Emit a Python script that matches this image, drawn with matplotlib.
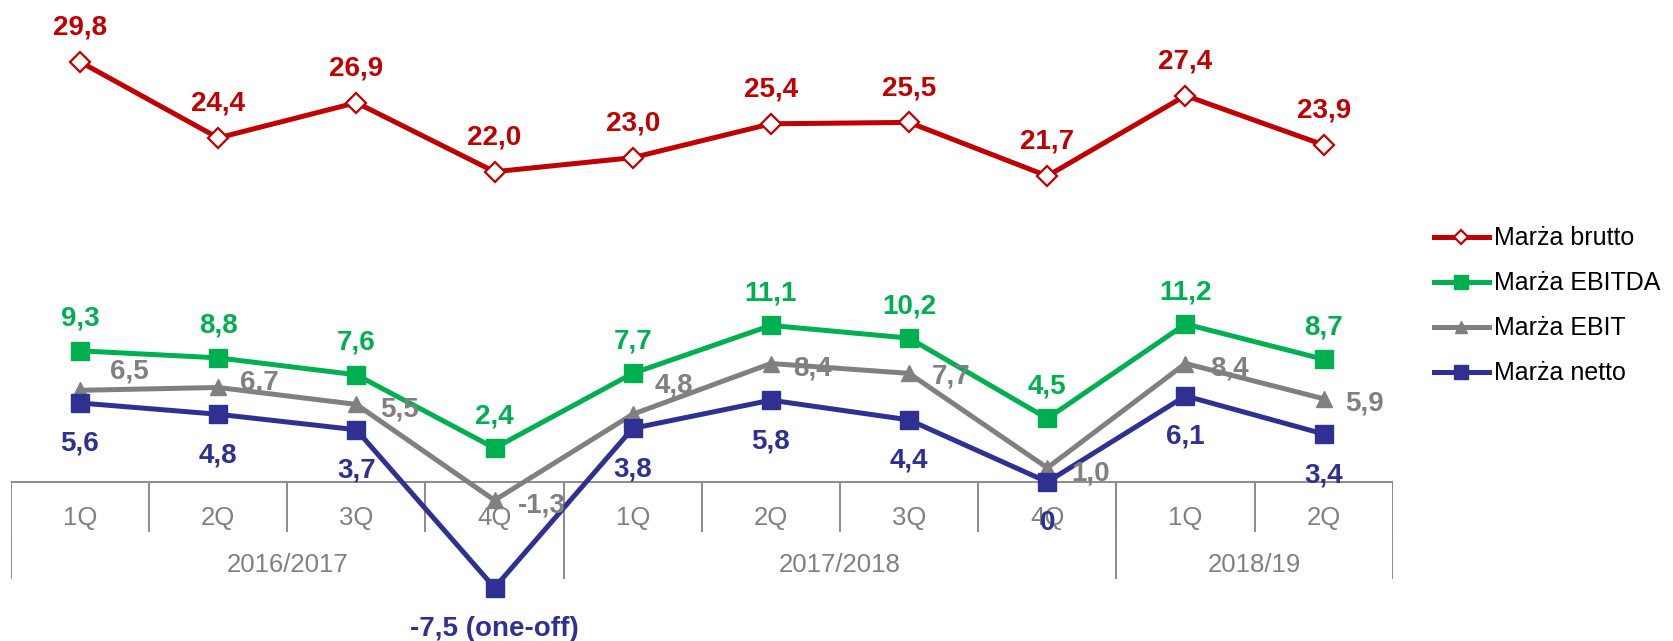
import matplotlib
matplotlib.use("Agg")
import matplotlib.pyplot as plt

quarters = ["1Q", "2Q", "3Q", "4Q", "1Q", "2Q", "3Q", "4Q", "1Q", "2Q"]
years = ["2016/2017", "2017/2018", "2018/19"]
year_len = [4, 4, 2]

brutto = [29.8, 24.4, 26.9, 22.0, 23.0, 25.4, 25.5, 21.7, 27.4, 23.9]
ebitda = [9.3, 8.8, 7.6, 2.4, 7.7, 11.1, 10.2, 4.5, 11.2, 8.7]
ebit = [6.5, 6.7, 5.5, -1.3, 4.8, 8.4, 7.7, 1.0, 8.4, 5.9]
netto = [5.6, 4.8, 3.7, -7.5, 3.8, 5.8, 4.4, 0.0, 6.1, 3.4]
netto_labels = ["5,6", "4,8", "3,7", "-7,5 (one-off)", "3,8", "5,8", "4,4", "0", "6,1", "3,4"]

RED = "#C00000"
GREEN = "#00B050"
GRAY = "#808080"
NAVY = "#2E3192"
AXC = "#8C8C8C"


def fmt(v):
    return f"{v:.1f}".replace(".", ",")


fig = plt.figure(figsize=(16.73, 6.41), dpi=100)
ax = fig.add_axes([0.0065, 0.0, 0.826, 1.0])
ax.set_xlim(-0.5, 9.5)
ax.set_ylim(-11.28, 34.18)
ax.axis("off")

x = list(range(len(quarters)))

ax.plot(x, brutto, color=RED, lw=3.6, marker="D", ms=10, mfc="white",
        mec=RED, mew=1.6, label="Marża brutto", zorder=5)
ax.plot(x, ebitda, color=GREEN, lw=3.6, marker="s", ms=13, mfc=GREEN,
        mec=GREEN, label="Marża EBITDA", zorder=6)
ax.plot(x, ebit, color=GRAY, lw=3.6, marker="^", ms=12, mfc=GRAY,
        mec=GRAY, label="Marża EBIT", zorder=7)
ax.plot(x, netto, color=NAVY, lw=3.6, marker="s", ms=13.5, mfc=NAVY,
        mec=NAVY, label="Marża netto", zorder=8)

# category "table" under the zero line
q_bottom, y_bottom = -3.55, -6.88
ax.axhline(0, color=AXC, lw=1.4, zorder=1)
ax.vlines([i - 0.5 for i in range(len(quarters) + 1)], q_bottom, 0,
          color=AXC, lw=1.4, zorder=1)
edges = [-0.5]
for n in year_len:
    edges.append(edges[-1] + n)
ax.vlines(edges, y_bottom, 0, color=AXC, lw=1.4, zorder=1)
for i, q in enumerate(quarters):
    ax.text(i, -3.05, q, ha="center", va="baseline", fontsize=18.5,
            color=GRAY, family="Liberation Sans", zorder=2)
for k, yr in enumerate(years):
    ax.text((edges[k] + edges[k + 1]) / 2, -6.38, yr, ha="center",
            va="baseline", fontsize=18.5, color=GRAY,
            family="Liberation Sans", zorder=2)

lab = dict(fontsize=20, fontweight="bold", family="Liberation Sans",
           textcoords="offset pixels", va="baseline", zorder=10)
for i, v in enumerate(brutto):
    ax.annotate(fmt(v), (i, v), xytext=(0, 27), ha="center", color=RED, **lab)
for i, v in enumerate(ebitda):
    ax.annotate(fmt(v), (i, v), xytext=(0, 25), ha="center", color=GREEN, **lab)
ebit_off = [(49, 22), (41, 8), (43, -2), (47, -2), (41, 32),
            (42, -2), (42, 0), (43, -3), (44, -2), (41, -2)]
for i, v in enumerate(ebit):
    dx, dy = ebit_off[i]
    ax.annotate(fmt(v), (i, v), xytext=(dx, dy - 10), ha="center", color=GRAY, **lab)
for i, v in enumerate(netto):
    ax.annotate(netto_labels[i], (i, v), xytext=(0, -48), ha="center", color=NAVY, **lab)

fig.legend(loc="center left", bbox_to_anchor=(0.851, 0.523), frameon=False,
           prop={"family": "Liberation Sans", "size": 18}, handlelength=2.2,
           handletextpad=0.2, labelspacing=0.84, markerscale=0.75,
           borderaxespad=0)

fig.savefig("out.png", dpi=100)
